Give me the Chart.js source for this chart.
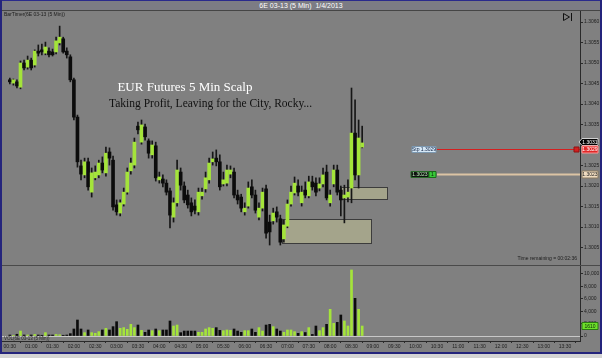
<!DOCTYPE html>
<html>
<head>
<meta charset="utf-8">
<script src="https://cdn.jsdelivr.net/npm/chart.js@4.4.1/dist/chart.umd.min.js"></script>
<style>
html, body { margin: 0; padding: 0; background: #d4d4d4; }
#wrap { position: relative; width: 602px; height: 358px; background: #808080; overflow: hidden; }
#wrap canvas { position: absolute; }
#price { left: 2px; top: 11px; }
#vol { left: 2px; top: 266px; }
.blk { position: absolute; }
#title { left: 0; top: 0; width: 602px; height: 10px; background: #7c7c84; border-top: 1px solid #2a2a8c;
  box-sizing: border-box; color: #fff; font: 7px "Liberation Sans", Arial, sans-serif; text-align: center; line-height: 9px; }
</style>
</head>
<body>
<div id="wrap">
  <div id="title" class="blk">6E 03-13 (5 Min)&nbsp; 1/4/2013</div>
  <div class="blk" style="left:0;top:10px;width:602px;height:1px;background:#454545"></div>
  <canvas id="price" width="598" height="254"></canvas>
  <div class="blk" style="left:2px;top:265px;width:598px;height:1px;background:#4a4a4a"></div>
  <canvas id="vol" width="598" height="86"></canvas>
  <div class="blk" style="left:0;top:0;width:2px;height:354px;background:#24247c"></div>
  <div class="blk" style="left:600px;top:0;width:2px;height:354px;background:#24247c"></div>
  <div class="blk" style="left:0;top:352px;width:602px;height:2px;background:#24247c"></div>
  <div class="blk" style="left:0;top:354px;width:602px;height:4px;background:#d4d4d4"></div>
</div>
<script>
// 6E 03-13, 5 min bars, 1/4/2013
var barTimes = ('00:30 00:35 00:40 00:45 00:50 00:55 01:00 01:05 01:10 01:15 01:20 01:25 ' +
  '01:30 01:35 01:40 01:45 01:50 01:55 02:00 02:05 02:10 02:15 02:20 02:25 ' +
  '02:30 02:35 02:40 02:45 02:50 02:55 03:00 03:05 03:10 03:15 03:20 03:25 ' +
  '03:30 03:35 03:40 03:45 03:50 03:55 04:00 04:05 04:10 04:15 04:20 04:25 ' +
  '04:30 04:35 04:40 04:45 04:50 04:55 05:00 05:05 05:10 05:15 05:20 05:25 ' +
  '05:30 05:35 05:40 05:45 05:50 05:55 06:00 06:05 06:10 06:15 06:20 06:25 ' +
  '06:30 06:35 06:40 06:45 06:50 06:55 07:00 07:05 07:10 07:15 07:20 07:25 ' +
  '07:30 07:35 07:40 07:45 07:50 07:55 08:00 08:05 08:10 08:15 08:20 08:25 ' +
  '08:30 08:35 08:40 08:45').split(' ');

var opens = [1.30459,1.30451,1.30454,1.30441,1.30500,1.30490,1.30507,1.30495,1.30529,1.30532,
  1.30524,1.30529,1.30527,1.30527,1.30549,1.30559,1.30529,1.30515,1.30459,1.30368,
  1.30249,1.30227,1.30259,1.30185,1.30220,1.30227,1.30256,1.30232,1.30283,1.30263,
  1.30154,1.30134,1.30156,1.30185,1.30237,1.30251,1.30346,1.30307,1.30344,1.30310,
  1.30276,1.30298,1.30215,1.30217,1.30207,1.30188,1.30124,1.30159,1.30234,1.30200,
  1.30178,1.30159,1.30151,1.30137,1.30176,1.30193,1.30215,1.30259,1.30268,1.30259,
  1.30205,1.30207,1.30229,1.30234,1.30178,1.30173,1.30137,1.30151,1.30198,1.30178,
  1.30124,1.30146,1.30193,1.30112,1.30115,1.30137,1.30120,1.30071,1.30102,1.30156,
  1.30183,1.30200,1.30159,1.30190,1.30176,1.30210,1.30207,1.30195,1.30205,1.30234,
  1.30159,1.30205,1.30239,1.30190,1.30171,1.30173,1.30195,1.30329,1.30227,1.30295];
var highs = [1.30463,1.30461,1.30459,1.30505,1.30507,1.30517,1.30512,1.30532,1.30544,1.30546,
  1.30551,1.30537,1.30534,1.30563,1.30590,1.30563,1.30537,1.30520,1.30463,1.30373,
  1.30263,1.30268,1.30268,1.30244,1.30249,1.30263,1.30271,1.30295,1.30293,1.30273,
  1.30166,1.30166,1.30195,1.30244,1.30268,1.30317,1.30356,1.30361,1.30351,1.30315,
  1.30310,1.30307,1.30234,1.30227,1.30215,1.30195,1.30171,1.30263,1.30244,1.30210,
  1.30190,1.30171,1.30166,1.30195,1.30195,1.30234,1.30268,1.30283,1.30288,1.30276,
  1.30234,1.30251,1.30249,1.30244,1.30190,1.30180,1.30159,1.30210,1.30215,1.30190,
  1.30159,1.30195,1.30202,1.30129,1.30146,1.30149,1.30129,1.30117,1.30166,1.30200,
  1.30222,1.30215,1.30200,1.30210,1.30224,1.30224,1.30220,1.30220,1.30244,1.30251,
  1.30190,1.30251,1.30251,1.30200,1.30202,1.30215,1.30439,1.30410,1.30361,1.30346];
var lows = [1.30449,1.30446,1.30439,1.30437,1.30483,1.30485,1.30483,1.30490,1.30517,1.30520,
  1.30520,1.30515,1.30517,1.30522,1.30544,1.30524,1.30512,1.30454,1.30361,1.30246,
  1.30215,1.30220,1.30190,1.30173,1.30215,1.30220,1.30232,1.30224,1.30251,1.30141,
  1.30129,1.30127,1.30151,1.30180,1.30229,1.30244,1.30327,1.30302,1.30312,1.30268,
  1.30268,1.30212,1.30207,1.30198,1.30178,1.30098,1.30112,1.30151,1.30190,1.30159,
  1.30146,1.30127,1.30132,1.30129,1.30168,1.30185,1.30207,1.30251,1.30249,1.30190,
  1.30200,1.30200,1.30220,1.30171,1.30156,1.30137,1.30129,1.30146,1.30171,1.30134,
  1.30117,1.30139,1.30073,1.30056,1.30107,1.30112,1.30056,1.30063,1.30098,1.30151,
  1.30178,1.30176,1.30151,1.30171,1.30171,1.30190,1.30176,1.30188,1.30198,1.30166,
  1.30151,1.30198,1.30178,1.30127,1.30110,1.30161,1.30159,1.30215,1.30195,1.30293];
var closes = [1.30454,1.30459,1.30444,1.30500,1.30488,1.30507,1.30488,1.30529,1.30524,1.30527,
  1.30539,1.30520,1.30520,1.30554,1.30563,1.30527,1.30520,1.30459,1.30368,1.30259,
  1.30229,1.30259,1.30198,1.30232,1.30234,1.30256,1.30239,1.30280,1.30268,1.30149,
  1.30137,1.30159,1.30185,1.30234,1.30256,1.30307,1.30337,1.30349,1.30320,1.30280,
  1.30300,1.30220,1.30222,1.30207,1.30185,1.30129,1.30159,1.30239,1.30202,1.30166,
  1.30154,1.30137,1.30141,1.30185,1.30185,1.30220,1.30256,1.30266,1.30259,1.30198,
  1.30215,1.30239,1.30239,1.30178,1.30166,1.30146,1.30146,1.30195,1.30178,1.30141,
  1.30146,1.30185,1.30085,1.30088,1.30134,1.30124,1.30063,1.30105,1.30156,1.30185,
  1.30207,1.30185,1.30185,1.30178,1.30210,1.30198,1.30185,1.30205,1.30227,1.30171,
  1.30178,1.30239,1.30185,1.30166,1.30178,1.30185,1.30329,1.30227,1.30317,1.30305];
var volumes = [160,100,280,800,160,160,160,250,160,120,
  540,160,160,250,200,120,160,380,1130,2580,
  1130,540,970,540,430,700,970,1240,970,1510,
  2310,1240,1350,1080,1880,1350,1770,910,590,970,
  860,1130,860,970,970,2420,1610,1770,540,800,
  800,800,800,590,590,1130,1350,1240,1350,910,
  860,970,910,1130,800,590,860,860,1130,590,
  1350,800,1770,1880,1510,1130,800,590,970,970,
  700,430,700,560,1350,250,1610,860,1350,1880,
  4300,2040,2200,3390,2420,1610,10650,6080,4300,1610];

var priceTicks = [1.3005,1.3010,1.3015,1.3020,1.3025,1.3030,1.3035,1.3040,1.3045,1.3050,1.3055,1.3060];
var volumeTicks = [0,2000,4000,6000,8000,10000];
var timeTicks = ['00:30','01:00','01:30','02:00','02:30','03:00','03:30','04:00','04:30','05:00',
  '05:30','06:00','06:30','07:00','07:30','08:00','08:30','09:00','09:30','10:00',
  '10:30','11:00','11:30','12:00','12:30','13:00','13:30'];

// drawn objects on the price panel
var zones = [
  { from: '06:53', to: '08:58', top: 1.30120, bottom: 1.30061 },
  { from: '08:15', to: '09:20', top: 1.30198, bottom: 1.30168 }
];
var stopPrice = 1.3029;
var entryPrice = 1.3023;
var orderStart = '10:30';
var titleText = 'EUR Futures 5 Min Scalp';
var noteText = 'Taking Profit, Leaving for the City, Rocky...';

var GREEN = '#a4e43a', BLACK = '#0c0c0c', AXIS = '#2a2a2a';
var SMALL = '"Liberation Sans", Arial, sans-serif';
var SERIF = '"Liberation Serif", "Times New Roman", serif';

function toMin(s) { var p = s.split(':'); return +p[0] * 60 + +p[1]; }
function fmtMin(v) { var h = Math.floor(v / 60), m = Math.round(v % 60); return (h < 10 ? '0' : '') + h + ':' + (m < 10 ? '0' : '') + m; }
function isUp(i) { return closes[i] >= opens[i]; }

var xMin = 19, xMax = 831;

function tag(ctx, x, y, w, h, fill, stroke, text, color, arrow) {
  ctx.save();
  ctx.beginPath();
  if (arrow) {
    ctx.moveTo(x - 3, y);
    ctx.lineTo(x, y - h / 2);
  } else {
    ctx.moveTo(x, y - h / 2);
  }
  ctx.lineTo(x + w, y - h / 2);
  ctx.lineTo(x + w, y + h / 2);
  ctx.lineTo(x, y + h / 2);
  ctx.closePath();
  ctx.fillStyle = fill;
  ctx.fill();
  if (stroke) { ctx.strokeStyle = stroke; ctx.lineWidth = 1; ctx.stroke(); }
  ctx.fillStyle = color;
  ctx.font = '5px ' + SMALL;
  ctx.textAlign = 'center';
  ctx.textBaseline = 'middle';
  ctx.fillText(text, x + w / 2, y + 0.5);
  ctx.restore();
}

var pricePlugin = {
  id: 'priceExtras',
  beforeDatasetsDraw: function (chart) {
    var ctx = chart.ctx, xs = chart.scales.x, ys = chart.scales.y;
    ctx.save();
    zones.forEach(function (z) {
      var x1 = Math.round(xs.getPixelForValue(toMin(z.from))) + 0.5;
      var x2 = Math.round(xs.getPixelForValue(toMin(z.to))) + 0.5;
      var y1 = Math.round(ys.getPixelForValue(z.top)) + 0.5;
      var y2 = Math.round(ys.getPixelForValue(z.bottom)) + 0.5;
      ctx.fillStyle = 'rgba(208,208,152,0.45)';
      ctx.fillRect(x1, y1, x2 - x1, y2 - y1);
      ctx.strokeStyle = '#3c3c3c';
      ctx.lineWidth = 1;
      ctx.strokeRect(x1, y1, x2 - x1, y2 - y1);
    });
    ctx.restore();
  },
  afterDatasetsDraw: function (chart) {
    var ctx = chart.ctx, xs = chart.scales.x, ys = chart.scales.y, area = chart.chartArea;
    ctx.save();
    var x0 = Math.round(xs.getPixelForValue(toMin(orderStart)));
    // stop order line
    var ySt = Math.round(ys.getPixelForValue(stopPrice)) + 0.5;
    ctx.strokeStyle = '#d42020';
    ctx.lineWidth = 1;
    ctx.beginPath(); ctx.moveTo(x0, ySt); ctx.lineTo(area.right, ySt); ctx.stroke();
    tag(ctx, x0 - 25, ySt, 24, 6, '#d6e8f6', '#7c98b0', 'Stp 1.3029', '#102040');
    // entry line
    var yEn = Math.round(ys.getPixelForValue(entryPrice)) + 0.5;
    ctx.strokeStyle = '#dcc4a4';
    ctx.lineWidth = 2;
    ctx.beginPath(); ctx.moveTo(x0, yEn); ctx.lineTo(area.right, yEn); ctx.stroke();
    tag(ctx, x0 - 26, yEn, 18, 6, '#101010', '#2a6a2a', '1.3023', '#b8f0b8');
    tag(ctx, x0 - 8, yEn, 7, 6, '#38c838', '#1a6a1a', '1', '#08200a');
    // comments
    var tx = xs.getPixelForValue(toMin('04:36'));
    var ty = ys.getPixelForValue(1.30440);
    ctx.font = '13px ' + SERIF;
    ctx.fillStyle = '#ffffff';
    ctx.textAlign = 'center';
    ctx.textBaseline = 'middle';
    ctx.fillText(titleText, tx, ty);
    var nx = xs.getPixelForValue(toMin('05:12'));
    var ny = ys.getPixelForValue(1.30400);
    ctx.font = '11.5px ' + SERIF;
    ctx.fillStyle = '#111111';
    ctx.fillText(noteText, nx, ny);
    ctx.restore();
  },
  afterDraw: function (chart) {
    var ctx = chart.ctx, ys = chart.scales.y, area = chart.chartArea;
    ctx.save();
    var r = area.right;
    tag(ctx, r + 2, Math.round(ys.getPixelForValue(closes[closes.length - 1])) - 1, 16, 7, '#050505', '#d0d0d0', closes[closes.length - 1].toFixed(4), '#ffffff', true);
    var ySt = Math.round(ys.getPixelForValue(stopPrice)) + 0.5;
    tag(ctx, r + 2, ySt, 16, 7, '#e02828', '#ff9090', stopPrice.toFixed(4), '#ffffff');
    tag(ctx, r - 6, ySt, 5, 5, '#d02020', '#901010', '', '#fff');
    var yEn = Math.round(ys.getPixelForValue(entryPrice)) + 0.5;
    tag(ctx, r + 2, yEn, 16, 7, '#f0dcc0', '#8a7a60', entryPrice.toFixed(4), '#202020');
    // panel texts
    ctx.fillStyle = '#1c1c1c';
    ctx.font = '5px ' + SMALL;
    ctx.textAlign = 'left';
    ctx.textBaseline = 'middle';
    ctx.fillText('BarTimer(6E 03-13 (5 Min))', 2, 4);
    ctx.textAlign = 'right';
    ctx.fillText('Time remaining = 00:02:36', r - 3, area.bottom - 6);
    // "go to last bar" button
    ctx.strokeStyle = '#111';
    ctx.lineWidth = 1;
    ctx.beginPath();
    ctx.moveTo(561.5, 2.5); ctx.lineTo(567.5, 6); ctx.lineTo(561.5, 9.5); ctx.closePath();
    ctx.stroke();
    ctx.beginPath(); ctx.moveTo(569.5, 2); ctx.lineTo(569.5, 10); ctx.stroke();
    ctx.restore();
  }
};

var volPlugin = {
  id: 'volExtras',
  beforeDatasetsDraw: function (chart) {
    var ctx = chart.ctx, ys = chart.scales.y, area = chart.chartArea;
    var y0 = Math.round(ys.getPixelForValue(0)) + 0.5;
    ctx.save();
    ctx.strokeStyle = '#c8c8c8';
    ctx.lineWidth = 1;
    ctx.beginPath(); ctx.moveTo(area.left, y0); ctx.lineTo(area.right, y0); ctx.stroke();
    ctx.restore();
  },
  afterDraw: function (chart) {
    var ctx = chart.ctx, ys = chart.scales.y, area = chart.chartArea;
    var last = volumes[volumes.length - 1];
    ctx.save();
    tag(ctx, area.right + 2, Math.round(ys.getPixelForValue(last)), 16, 7, '#6ee02a', '#2a7a10', String(last), '#0a2a0a');
    ctx.fillStyle = '#262626';
    ctx.font = '4.5px ' + SMALL;
    ctx.textAlign = 'left';
    ctx.textBaseline = 'middle';
    ctx.fillText('VOL(6E 03-13 (5 Min))', 2, Math.round(ys.getPixelForValue(0)) + 3);
    ctx.restore();
  }
};

function fixY(width) {
  return function (s) { s.width = width; s.paddingTop = 0; s.paddingBottom = 0; };
}

var priceChart = new Chart(document.getElementById('price'), {
  type: 'bar',
  data: {
    datasets: [
      {
        label: 'body',
        data: barTimes.map(function (t, i) { return { x: toMin(t), y: [opens[i], closes[i]] }; }),
        backgroundColor: function (c) { return isUp(c.dataIndex) ? GREEN : BLACK; },
        barThickness: 3,
        grouped: false,
        order: 1
      },
      {
        label: 'wick',
        data: barTimes.map(function (t, i) { return { x: toMin(t), y: [lows[i], highs[i]] }; }),
        backgroundColor: '#161616',
        barThickness: 1,
        grouped: false,
        order: 2
      }
    ]
  },
  options: {
    responsive: false,
    animation: false,
    events: [],
    layout: { padding: 0 },
    plugins: { legend: { display: false }, tooltip: { enabled: false } },
    scales: {
      x: { type: 'linear', min: xMin, max: xMax, offset: false, display: false },
      y: {
        position: 'right',
        min: 1.3000732, max: 1.3062683,
        afterBuildTicks: function (s) { s.ticks = priceTicks.map(function (v) { return { value: v }; }); },
        afterFit: fixY(20),
        ticks: { font: { size: 5, family: SMALL }, color: '#1e1e1e', padding: 1, callback: function (v) { return v.toFixed(4); } },
        grid: { drawOnChartArea: false, tickLength: 3, color: AXIS },
        border: { color: AXIS }
      }
    }
  },
  plugins: [pricePlugin]
});

var volChart = new Chart(document.getElementById('vol'), {
  type: 'bar',
  data: {
    datasets: [{
      label: 'volume',
      data: barTimes.map(function (t, i) { return { x: toMin(t), y: volumes[i] }; }),
      backgroundColor: function (c) { return isUp(c.dataIndex) ? GREEN : BLACK; },
      barThickness: 2
    }]
  },
  options: {
    responsive: false,
    animation: false,
    events: [],
    layout: { padding: 0 },
    plugins: { legend: { display: false }, tooltip: { enabled: false } },
    scales: {
      x: {
        type: 'linear', min: xMin, max: xMax, offset: false,
        afterBuildTicks: function (s) { s.ticks = timeTicks.map(function (t) { return { value: toMin(t) }; }); },
        afterFit: function (s) { s.height = 11; s.paddingLeft = 0; s.paddingRight = 0; },
        ticks: { font: { size: 5, family: SMALL }, color: '#1e1e1e', padding: 1, autoSkip: false, maxRotation: 0, callback: function (v) { return fmtMin(v); } },
        grid: { drawOnChartArea: false, tickLength: 2, color: AXIS },
        border: { color: AXIS }
      },
      y: {
        position: 'right',
        min: -806, max: 11290,
        afterBuildTicks: function (s) { s.ticks = volumeTicks.map(function (v) { return { value: v }; }); },
        afterFit: fixY(20),
        ticks: { font: { size: 5, family: SMALL }, color: '#1e1e1e', padding: 1 },
        grid: { drawOnChartArea: false, tickLength: 3, color: AXIS },
        border: { color: AXIS }
      }
    }
  },
  plugins: [volPlugin]
});
</script>
</body>
</html>
